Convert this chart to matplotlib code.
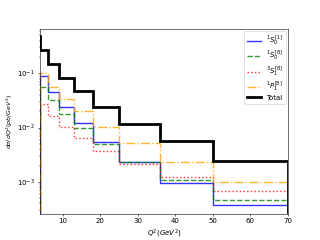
import numpy as np
import matplotlib
matplotlib.use('Agg')
import matplotlib.pyplot as plt

# Q^2 bin edges (GeV^2)
edges = [4, 6, 9, 13, 18, 25, 36, 50, 70]

# d sigma / dQ^2 per bin (pb/GeV^2)
s0_1 = [0.089, 0.046, 0.0243, 0.012, 0.0055, 0.0023, 0.00097, 0.00037]
s0_8 = [0.057, 0.032, 0.0178, 0.0100, 0.0050, 0.0023, 0.0011, 0.00046]
s1_8 = [0.027, 0.0166, 0.0104, 0.0065, 0.0037, 0.0021, 0.00123, 0.00067]
p1_8 = [0.100, 0.057, 0.034, 0.020, 0.0104, 0.0051, 0.0023, 0.00098]
total = [0.27, 0.149, 0.083, 0.048, 0.0243, 0.0116, 0.0056, 0.00245]

# lowest bin (below the shown range) of the total
total_edges = [3] + edges
total_vals = [0.49] + total

fig, ax = plt.subplots(figsize=(6.4, 4.8), dpi=50)

ax.stairs(s0_1, edges, color='blue', linestyle='-', linewidth=2, alpha=0.8,
          label=r'$^1S_0^{[1]}$')
ax.stairs(s0_8, edges, color='green', linestyle='--', linewidth=2, alpha=0.8,
          label=r'$^1S_0^{[8]}$')
ax.stairs(s1_8, edges, color='red', linestyle=':', linewidth=2, alpha=0.8,
          label=r'$^3S_1^{[8]}$')
ax.stairs(p1_8, edges, color='orange', linestyle='-.', linewidth=2, alpha=0.8,
          label=r'$^1P_1^{[8]}$')
ax.stairs(total_vals, total_edges, color='black', linewidth=4, label='Total')

ax.set_yscale('log')
ax.set_xlim(4, 70)
ax.set_ylim(2.6e-4, 0.66)
ax.set_xlabel(r'$Q^2(GeV^2)$')
ax.set_ylabel(r'$d\sigma/dQ^2(pb/GeV^2)$', fontsize=9)
ax.legend(loc='upper right', labelspacing=0.15, borderaxespad=0.3)

fig.savefig('out.png', dpi=50)
